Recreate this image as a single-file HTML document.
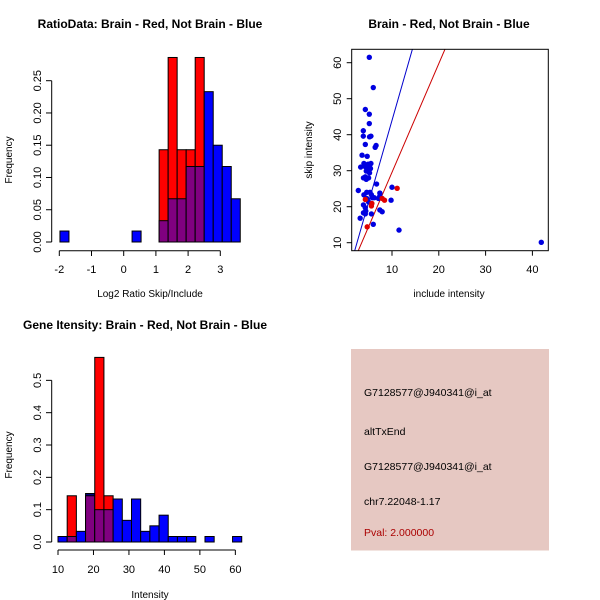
<!DOCTYPE html>
<html><head><meta charset="utf-8"><style>
html,body{margin:0;padding:0;background:#fff;}
svg{display:block;font-family:"Liberation Sans",sans-serif;}
</style></head><body>
<svg id="chart" width="600" height="600" xmlns="http://www.w3.org/2000/svg"></svg>
<script>
// Panel 1: log2 ratio histogram
const ratioBinStart = -1.98;
const ratioBinWidth = 0.28;
const ratioBlue = [0.017,0,0,0,0,0,0,0,0.017,0,0,0.033,0.067,0.067,0.117,0.117,0.233,0.15,0.117,0.067];
const ratioRed  = [0,0,0,0,0,0,0,0,0,0,0,0.143,0.286,0.143,0.143,0.286,0,0,0,0];
const ratioXTicks = [-2,-1,0,1,2,3];
const ratioYTicks = ["0.00","0.05","0.10","0.15","0.20","0.25"];
// Panel 2: scatter
const blueInclude = [5.15,6.0,4.3,5.15,5.15,3.87,3.87,5.2,5.5,4.3,6.6,6.4,3.6,4.7,4.0,4.9,5.5,5.2,4.3,3.3,4.8,5.4,4.5,5.2,4.3,5.0,3.9,4.5,2.8,6.7,10.0,4.0,5.3,5.6,6.2,4.6,5.0,3.9,4.3,4.4,3.9,4.3,7.4,7.4,7.1,3.2,5.6,7.4,7.9,9.8,6.0,11.5,41.9,4.6,5.8];
const blueSkip    = [61.5,53.1,47.0,45.7,43.1,41.1,39.6,39.4,39.6,37.3,37.0,36.5,34.3,34.0,32.0,31.8,32.0,31.3,31.1,31.0,30.6,30.6,29.9,29.4,28.3,28.0,28.0,27.6,24.5,26.3,25.4,23.3,24.0,23.3,22.5,22.3,21.3,20.5,19.7,18.8,18.3,18.0,23.8,23.0,22.3,16.8,18.0,19.1,18.6,21.8,15.1,13.5,10.1,24.0,22.5];
const redInclude = [11.1,8.4,5.7,5.6,4.7,4.3,7.9];
const redSkip    = [25.1,21.8,20.9,20.2,14.4,22.0,22.3];
const lineSlopes = [4.54,3.02];
const lineIntercepts = [-1.44,-0.65];
const scatXTicks = [10,20,30,40];
const scatYTicks = [10,20,30,40,50,60];
// Panel 3: intensity histogram
const intBinStart = 10.0;
const intBinWidth = 2.59;
const intBlue = [0.017,0.017,0.033,0.15,0.1,0.1,0.133,0.067,0.133,0.033,0.05,0.083,0.017,0.017,0.017,0,0.017,0,0,0.017];
const intRed  = [0,0.143,0,0.143,0.571,0.143,0,0,0,0,0,0,0,0,0,0,0,0,0,0];
const intXTicks = [10,20,30,40,50,60];
const intYTicks = ["0.0","0.1","0.2","0.3","0.4","0.5"];
// Panel 4 text
const infoLines = ["G7128577@J940341@i_at","altTxEnd","G7128577@J940341@i_at","chr7.22048-1.17"];
const pvalText = "Pval: 2.000000";

const svg = document.getElementById('chart');
const NS = "http://www.w3.org/2000/svg";
function mk(tag, attrs, parent){const e=document.createElementNS(NS,tag);for(const k in attrs)e.setAttribute(k,attrs[k]);(parent||svg).appendChild(e);return e;}
function txt(s, attrs, parent){const e=mk('text',attrs,parent);e.textContent=s;return e;}

// ---------- Panel 1 ----------
(function(){
  const g = mk('g',{});
  
  
  const sx = v => 59.3 + (v+2)*32.2;
  const sy = v => 242 - v*645.2;
  for(let i=0;i<ratioBlue.length;i++){
    const x0=sx(ratioBinStart+i*ratioBinWidth), x1=sx(ratioBinStart+(i+1)*ratioBinWidth);
    const r=ratioRed[i], b=ratioBlue[i], m=Math.min(r,b);
    if(r>0){const e=mk('rect',{x:x0,y:sy(r),width:x1-x0,height:sy(0)-sy(r),fill:'#ff0000',stroke:'#000','stroke-width':1},g);
      }
    if(b>r){const e=mk('rect',{x:x0,y:sy(b),width:x1-x0,height:sy(0)-sy(b),fill:'#0000ff',stroke:'#000','stroke-width':1},g);
      }
    if(m>0){const e=mk('rect',{x:x0,y:sy(m),width:x1-x0,height:sy(0)-sy(m),fill:'#800080',stroke:'#000','stroke-width':1},g);
      }
  }
  mk('line',{x1:sx(-2),x2:sx(3),y1:250.7,y2:250.7,stroke:'#000'},g);
  ratioXTicks.forEach(t=>{mk('line',{x1:sx(t),x2:sx(t),y1:250.7,y2:256,stroke:'#000'},g);
    txt(String(t),{x:sx(t),y:273,'font-size':11,'text-anchor':'middle'},g);});
  mk('line',{x1:51.7,x2:51.7,y1:sy(0),y2:sy(0.25),stroke:'#000'},g);
  ratioYTicks.forEach(t=>{const y=sy(parseFloat(t));mk('line',{x1:46,x2:51.7,y1:y,y2:y,stroke:'#000'},g);
    txt(t,{x:0,y:0,'font-size':11,'text-anchor':'middle',transform:`translate(41,${y}) rotate(-90)`},g);});
  const t1=txt('RatioData: Brain - Red, Not Brain - Blue',{x:150,y:28,'font-size':12,'font-weight':'bold','text-anchor':'middle'},g);
  
  const xl=txt('Log2 Ratio Skip/Include',{x:150,y:297,'font-size':10,'text-anchor':'middle'},g);
  
  const yl=txt('Frequency',{x:0,y:0,'font-size':10,'text-anchor':'middle',transform:'translate(12,160) rotate(-90)'},g);
  
})();

// ---------- Panel 2 ----------
(function(){
  const g = mk('g',{});
  
  
  const L=351.7,R=548.3,T=49.3,B=250.7;
  const sx = v => 392 + (v-10)*4.68;
  const sy = v => 242.7 - (v-10)*3.6;
  const clip = mk('clipPath',{id:'scatClip'},g);
  mk('rect',{x:L,y:T,width:R-L,height:B-T},clip);
  const cols=['#0000cc','#cc0000'];
  for(let k=0;k<lineSlopes.length;k++){
    const xa=(sx(0)), ya=sy(lineIntercepts[k]);
    const xb=sx(50), yb=sy(lineSlopes[k]*50+lineIntercepts[k]);
    const e=mk('line',{x1:xa,y1:ya,x2:xb,y2:yb,stroke:cols[k],'stroke-width':1,'clip-path':'url(#scatClip)'},g);
    
  }
  for(let i=0;i<blueInclude.length;i++){
    const e=mk('circle',{cx:sx(blueInclude[i]),cy:sy(blueSkip[i]),r:2.7,fill:'#0000e0'},g);
    
  }
  for(let i=0;i<redInclude.length;i++){
    const e=mk('circle',{cx:sx(redInclude[i]),cy:sy(redSkip[i]),r:2.7,fill:'#e00000'},g);
    
  }
  mk('rect',{x:L,y:T,width:R-L,height:B-T,fill:'none',stroke:'#000'},g);
  scatXTicks.forEach(t=>{mk('line',{x1:sx(t),x2:sx(t),y1:B,y2:B+5,stroke:'#000'},g);
    txt(String(t),{x:sx(t),y:273,'font-size':11,'text-anchor':'middle'},g);});
  scatYTicks.forEach(t=>{const y=sy(t);mk('line',{x1:L-5,x2:L,y1:y,y2:y,stroke:'#000'},g);
    txt(String(t),{x:0,y:0,'font-size':11,'text-anchor':'middle',transform:`translate(341,${y}) rotate(-90)`},g);});
  const t1=txt('Brain - Red, Not Brain - Blue',{x:449,y:28,'font-size':12,'font-weight':'bold','text-anchor':'middle'},g);
  
  const xl=txt('include intensity',{x:449,y:297,'font-size':10,'text-anchor':'middle'},g);
  
  const yl=txt('skip intensity',{x:0,y:0,'font-size':10,'text-anchor':'middle',transform:'translate(312,150) rotate(-90)'},g);
  
})();

// ---------- Panel 3 ----------
(function(){
  const g = mk('g',{});
  
  
  const sx = v => 58 + (v-10)*3.547;
  const sy = v => 542 - v*323.3;
  for(let i=0;i<intBlue.length;i++){
    const x0=sx(intBinStart+i*intBinWidth), x1=sx(intBinStart+(i+1)*intBinWidth);
    const r=intRed[i], b=intBlue[i], m=Math.min(r,b);
    if(r>0){const e=mk('rect',{x:x0,y:sy(r),width:x1-x0,height:sy(0)-sy(r),fill:'#ff0000',stroke:'#000','stroke-width':1},g);
      }
    if(b>r){const e=mk('rect',{x:x0,y:sy(b),width:x1-x0,height:sy(0)-sy(b),fill:r>0?'#000080':'#0000ff',stroke:'#000','stroke-width':1},g);
      }
    if(m>0){const e=mk('rect',{x:x0,y:sy(m),width:x1-x0,height:sy(0)-sy(m),fill:'#800080',stroke:'#000','stroke-width':1},g);
      }
  }
  mk('line',{x1:sx(10),x2:sx(60),y1:550,y2:550,stroke:'#000'},g);
  intXTicks.forEach(t=>{mk('line',{x1:sx(t),x2:sx(t),y1:550,y2:555,stroke:'#000'},g);
    txt(String(t),{x:sx(t),y:573,'font-size':11,'text-anchor':'middle'},g);});
  mk('line',{x1:51.7,x2:51.7,y1:sy(0),y2:sy(0.5),stroke:'#000'},g);
  intYTicks.forEach(t=>{const y=sy(parseFloat(t));mk('line',{x1:46,x2:51.7,y1:y,y2:y,stroke:'#000'},g);
    txt(t,{x:0,y:0,'font-size':11,'text-anchor':'middle',transform:`translate(41,${y}) rotate(-90)`},g);});
  const t1=txt('Gene Itensity: Brain - Red, Not Brain - Blue',{x:145,y:329,'font-size':12,'font-weight':'bold','text-anchor':'middle'},g);
  
  const xl=txt('Intensity',{x:150,y:598,'font-size':10,'text-anchor':'middle'},g);
  
  const yl=txt('Frequency',{x:0,y:0,'font-size':10,'text-anchor':'middle',transform:'translate(12,455) rotate(-90)'},g);
  
})();

// ---------- Panel 4 ----------
(function(){
  const g = mk('g',{});
  
  
  mk('rect',{x:351,y:349,width:198,height:201.5,fill:'#e6c8c2'},g);
  const ys=[396,435,470,505];
  infoLines.forEach((s,i)=>{const e=txt(s,{x:364,y:ys[i],'font-size':10.5,fill:'#000'},g);
    });
  const p=txt(pvalText,{x:364,y:536,'font-size':10.5,fill:'#aa0000'},g);
  
})();
</script>
</body></html>
